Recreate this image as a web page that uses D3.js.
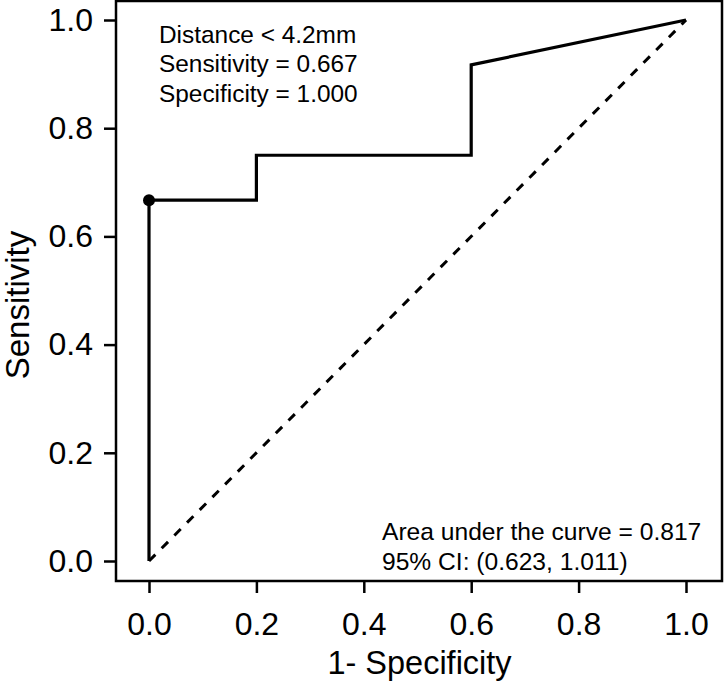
<!DOCTYPE html>
<html>
<head>
<meta charset="utf-8">
<script src="https://cdn.jsdelivr.net/npm/d3@7"></script>
<style>
  body { margin: 0; background: #fff; }
  text { font-family: "Liberation Sans", Arial, sans-serif; fill: #000; }
</style>
</head>
<body>
<div id="chart"></div>
<script>
// ROC curve points (1 - specificity, sensitivity)
var fpr = [0, 0, 0.2, 0.2, 0.6, 0.6, 1.0];
var tpr = [0, 0.667, 0.667, 0.75, 0.75, 0.917, 1.0];
var cutPoint = [0, 0.667];
var tickValues = [0, 0.2, 0.4, 0.6, 0.8, 1.0];
var topNotes = ['Distance < 4.2mm', 'Sensitivity = 0.667', 'Specificity = 1.000'];
var bottomNotes = ['Area under the curve = 0.817', '95% CI: (0.623, 1.011)'];

var width = 724, height = 685;
var box = { left: 116, right: 722, top: 1, bottom: 581 };

var svg = d3.select('#chart').append('svg')
    .attr('width', width)
    .attr('height', height);

var x = d3.scaleLinear().domain([0, 1]).range([149, 686]);
var y = d3.scaleLinear().domain([0, 1]).range([561, 20]);

// plot frame
svg.append('rect')
    .attr('x', box.left)
    .attr('y', box.top)
    .attr('width', box.right - box.left)
    .attr('height', box.bottom - box.top)
    .attr('fill', 'none')
    .attr('stroke', '#000')
    .attr('stroke-width', 2.5);

// axes
var xAxis = svg.append('g')
    .attr('transform', 'translate(0,' + box.bottom + ')')
    .call(d3.axisBottom(x).tickValues(tickValues).tickFormat(d3.format('.1f')).tickSize(12).tickPadding(19));
var yAxis = svg.append('g')
    .attr('transform', 'translate(' + box.left + ',0)')
    .call(d3.axisLeft(y).tickValues(tickValues).tickFormat(d3.format('.1f')).tickSize(12).tickPadding(11));

[xAxis, yAxis].forEach(function(g) {
    g.select('.domain').remove();
    g.selectAll('line').attr('stroke', '#000').attr('stroke-width', 2.5);
    g.selectAll('text').attr('font-size', 32).attr('font-family', '"Liberation Sans", Arial, sans-serif');
});

// diagonal reference
svg.append('line')
    .attr('x1', x(0)).attr('y1', y(0))
    .attr('x2', x(1)).attr('y2', y(1))
    .attr('stroke', '#000')
    .attr('stroke-width', 3)
    .attr('stroke-dasharray', '9,9');

// ROC curve
var pts = fpr.map(function(d, i) { return [d, tpr[i]]; });
svg.append('path')
    .datum(pts)
    .attr('d', d3.line().x(function(d) { return x(d[0]); }).y(function(d) { return y(d[1]); }))
    .attr('fill', 'none')
    .attr('stroke', '#000')
    .attr('stroke-width', 3.2);

svg.append('circle')
    .attr('cx', x(cutPoint[0]))
    .attr('cy', y(cutPoint[1]))
    .attr('r', 6)
    .attr('fill', '#000');

// annotations
svg.selectAll('.topnote')
    .data(topNotes)
    .enter().append('text')
    .attr('class', 'topnote')
    .attr('x', 159)
    .attr('y', function(d, i) { return 43 + i * 29.3; })
    .attr('font-size', 24.4)
    .text(function(d) { return d; });

svg.selectAll('.bottomnote')
    .data(bottomNotes)
    .enter().append('text')
    .attr('class', 'bottomnote')
    .attr('x', 382)
    .attr('y', function(d, i) { return 540 + i * 30; })
    .attr('font-size', 24.6)
    .text(function(d) { return d; });

// axis titles
svg.append('text')
    .attr('x', x(0.5) + 2)
    .attr('y', 674)
    .attr('text-anchor', 'middle')
    .attr('font-size', 32.5)
    .text('1- Specificity');

svg.append('text')
    .attr('transform', 'translate(29,305) rotate(-90)')
    .attr('text-anchor', 'middle')
    .attr('font-size', 33)
    .text('Sensitivity');
</script>
</body>
</html>
